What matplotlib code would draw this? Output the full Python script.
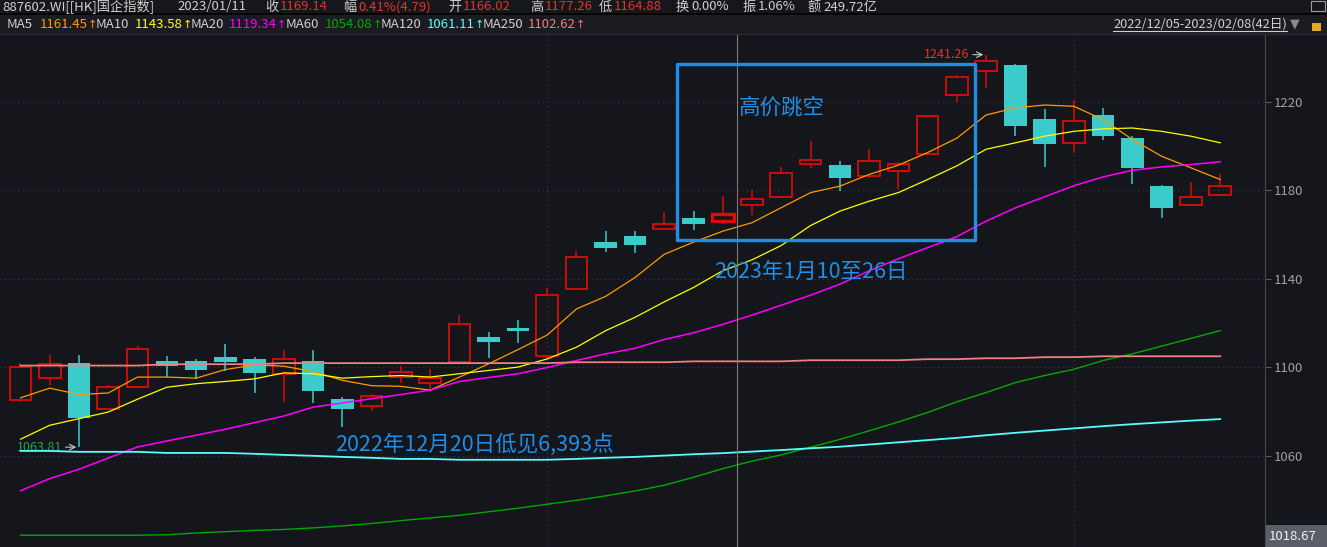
import numpy as np
import matplotlib
matplotlib.use('Agg')
import matplotlib.pyplot as plt
from matplotlib.patches import Rectangle

plt.rcParams['font.family'] = ['Noto Sans CJK SC', 'DejaVu Sans']

# 国企指数 日K 2022/12/05 - 2023/02/08 (42日)
opens = [1085.1, 1095.3, 1101.9, 1081.1, 1091.0, 1102.8, 1102.8, 1104.6, 1103.7, 1096.8,
         1102.8, 1085.7, 1082.4, 1095.5, 1092.8, 1102.2, 1113.6, 1117.7, 1104.9, 1135.4,
         1156.5, 1159.2, 1162.6, 1167.3, 1166.02, 1173.4, 1177.0, 1191.9, 1191.6, 1186.5,
         1188.8, 1196.4, 1223.0, 1233.8, 1236.7, 1212.3, 1201.2, 1214.1, 1203.8, 1182.1,
         1173.4, 1178.0]
highs = [1101.9, 1105.5, 1105.5, 1092.0, 1109.6, 1104.8, 1103.7, 1110.5, 1104.6, 1107.8,
         1107.8, 1086.6, 1087.9, 1100.4, 1099.2, 1123.6, 1115.9, 1121.3, 1135.6, 1152.4,
         1161.4, 1161.4, 1170.0, 1170.4, 1177.26, 1180.0, 1190.3, 1202.0, 1193.0, 1198.8,
         1192.8, 1214.0, 1232.2, 1241.26, 1237.1, 1216.8, 1220.6, 1217.3, 1204.4, 1182.3,
         1183.9, 1187.5]
lows = [1084.3, 1091.7, 1063.81, 1080.9, 1090.8, 1095.6, 1094.7, 1098.4, 1088.1, 1084.2,
        1083.6, 1072.8, 1080.0, 1092.6, 1089.8, 1101.8, 1104.2, 1111.1, 1103.7, 1134.8,
        1151.9, 1151.6, 1162.0, 1162.0, 1164.88, 1168.6, 1176.8, 1189.9, 1179.6, 1185.4,
        1180.3, 1196.2, 1219.9, 1226.0, 1204.4, 1190.4, 1197.0, 1202.6, 1182.7, 1167.4,
        1173.2, 1177.8]
closes = [1100.0, 1101.3, 1076.8, 1091.0, 1108.1, 1100.3, 1098.9, 1102.5, 1097.5, 1103.6,
          1089.0, 1080.9, 1086.9, 1097.7, 1095.2, 1119.4, 1111.5, 1116.3, 1132.4, 1150.0,
          1153.9, 1155.2, 1164.9, 1164.7, 1169.14, 1176.1, 1187.9, 1193.7, 1185.4, 1193.3,
          1191.9, 1213.6, 1231.1, 1238.6, 1208.9, 1200.8, 1211.4, 1204.4, 1189.9, 1171.9,
          1177.0, 1181.7]

# 均线
ma5 = [1086.1, 1090.5, 1087.6, 1088.3, 1095.5, 1095.5, 1095.0, 1098.9, 1101.0, 1100.4,
       1098.0, 1094.0, 1091.6, 1091.3, 1089.6, 1095.5, 1101.5, 1107.9, 1114.5, 1126.3,
       1132.0, 1140.5, 1151.0, 1156.5, 1161.45, 1165.3, 1172.1, 1178.9, 1181.8, 1187.1,
       1191.3, 1197.0, 1203.5, 1214.0, 1217.2, 1218.5, 1217.9, 1211.9, 1202.9, 1195.3,
       1190.1, 1184.8]
ma10 = [1067.4, 1073.7, 1076.7, 1079.7, 1085.5, 1090.9, 1092.5, 1093.5, 1094.7, 1097.4,
        1097.0, 1095.0, 1095.7, 1096.2, 1095.5, 1097.0, 1098.5, 1100.0, 1103.7, 1109.0,
        1116.5, 1122.5, 1129.5, 1136.0, 1143.58, 1148.5, 1155.0, 1164.0, 1170.5, 1175.0,
        1178.9, 1184.8, 1191.0, 1198.5, 1201.4, 1204.4, 1206.6, 1207.7, 1208.1, 1206.6,
        1204.4, 1201.4]
ma20 = [1044.1, 1049.6, 1053.8, 1058.9, 1063.9, 1066.6, 1069.2, 1071.9, 1074.9, 1077.9,
        1081.9, 1083.8, 1085.7, 1087.6, 1089.6, 1093.5, 1095.3, 1097.0, 1099.8, 1103.0,
        1106.0, 1108.5, 1112.5, 1115.5, 1119.34, 1123.5, 1128.0, 1132.5, 1137.5, 1143.5,
        1149.0, 1154.0, 1159.0, 1166.0, 1172.0, 1177.0, 1182.0, 1186.0, 1189.0, 1190.5,
        1191.6, 1192.8]
ma60 = [1024.0, 1024.0, 1024.0, 1024.0, 1024.0, 1024.2, 1025.0, 1025.6, 1026.2, 1026.6,
        1027.3, 1028.2, 1029.3, 1030.6, 1031.8, 1033.0, 1034.6, 1036.2, 1038.0, 1039.8,
        1041.8, 1044.0, 1046.6, 1050.2, 1054.08, 1057.5, 1060.3, 1063.8, 1067.3, 1071.2,
        1075.2, 1079.5, 1084.3, 1088.5, 1093.0, 1096.2, 1099.0, 1103.0, 1106.0, 1109.5,
        1113.0, 1116.5]
ma120 = [1062.1, 1062.1, 1061.7, 1061.7, 1061.7, 1061.2, 1061.2, 1061.2, 1060.8, 1060.3,
         1059.9, 1059.4, 1059.0, 1058.5, 1058.5, 1058.1, 1058.1, 1058.1, 1058.1, 1058.5,
         1059.0, 1059.4, 1060.0, 1060.6, 1061.11, 1061.8, 1062.5, 1063.3, 1064.0, 1065.0,
         1066.0, 1067.0, 1068.0, 1069.2, 1070.3, 1071.3, 1072.3, 1073.3, 1074.2, 1075.0,
         1075.8, 1076.5]
ma250 = [1100.7, 1100.7, 1100.7, 1100.7, 1100.7, 1101.3, 1101.3, 1101.3, 1101.3, 1101.8,
         1101.8, 1101.8, 1101.8, 1101.8, 1101.8, 1101.8, 1101.8, 1101.8, 1101.8, 1102.2,
         1102.2, 1102.2, 1102.2, 1102.6, 1102.62, 1102.6, 1102.6, 1103.1, 1103.1, 1103.1,
         1103.1, 1103.6, 1103.6, 1104.0, 1104.0, 1104.5, 1104.5, 1104.9, 1104.9, 1104.9,
         1104.9, 1104.9]

ma_names = ['MA5', 'MA10', 'MA20', 'MA60', 'MA120', 'MA250']
ma_colors = ['#ff9a00', '#ffff00', '#ff00ff', '#00aa00', '#55ffff', '#f08080']
ma_lw = [0.9, 0.9, 1.1, 1.0, 1.3, 1.3]

month_starts = [18, 36]      # 2023/01/03, 2023/02/01
cursor_idx = 24              # 2023/01/11
yticks = [1060, 1100, 1140, 1180, 1220]
axis_low = 1018.67

BG = '#14161b'
RED = '#dc0a0a'
CYAN = '#3ccbcb'
BLUE = '#1e8fe8'

W, H = 1327, 547
fig = plt.figure(figsize=(W / 100, H / 100), dpi=100, facecolor=BG)
ax = fig.add_axes([0, 0, 1265 / W, (H - 34) / H])
ax.set_facecolor(BG)

n = len(closes)
x = np.arange(n)
o = np.array(opens); c = np.array(closes); h = np.array(highs); l = np.array(lows)
up = c >= o
top = np.maximum(o, c); bot = np.minimum(o, c)

# 影线
wick_cols = np.where(up, RED, CYAN)
ax.vlines(x, top, h, colors=wick_cols, lw=1.1, zorder=2)
ax.vlines(x, l, bot, colors=wick_cols, lw=1.1, zorder=2)
# 实体
for i in range(n):
    if up[i]:
        lw = 2.4 if i == cursor_idx else 1.3
        ax.add_patch(Rectangle((i - 0.37, bot[i]), 0.74, max(top[i] - bot[i], 0.3),
                               facecolor='none', edgecolor=RED, lw=lw, zorder=3))
    else:
        ax.add_patch(Rectangle((i - 0.385, bot[i]), 0.77, max(top[i] - bot[i], 0.3),
                               facecolor=CYAN, edgecolor='none', zorder=3))

# 均线
for vals, col, lw in zip([ma5, ma10, ma20, ma60, ma120, ma250], ma_colors, ma_lw):
    ax.plot(x, vals, color=col, lw=lw, zorder=4)

ax.set_xlim(-0.70, 42.53)
ax.set_ylim(axis_low, 1250.6)

# 网格
for v in yticks:
    ax.axhline(v, color='#3a3d45', lw=0.8, ls=(0, (1, 3)), zorder=1)
for m in month_starts:
    ax.axvline(m, color='#3a3d45', lw=0.8, ls=(0, (1, 3)), zorder=1)
ax.axvline(cursor_idx + 0.5, color='#7a7a7a', lw=0.8, zorder=5)

ax.yaxis.tick_right()
ax.set_yticks(yticks)
ax.set_xticks([])
ax.tick_params(axis='y', colors='#5a5a5a', labelcolor='#a0a0a0', labelsize=9.5,
               length=4, width=0.8, pad=2)
for s in ['top', 'left', 'bottom']:
    ax.spines[s].set_visible(False)
ax.spines['right'].set_color('#4a4a4a')

# 最高/最低标记
imax = int(np.argmax(h)); imin = int(np.argmin(l))
ax.annotate('', xy=(imax, h[imax]), xytext=(imax - 0.55, h[imax]),
            arrowprops=dict(arrowstyle='->', color='#c8c8c8', lw=0.8), zorder=6)
ax.text(imax - 0.56, h[imax], f'{h[imax]:.2f}', ha='right', va='center',
        color='#e83030', fontsize=9)
ax.annotate('', xy=(imin, l[imin]), xytext=(imin - 0.55, l[imin]),
            arrowprops=dict(arrowstyle='->', color='#c8c8c8', lw=0.8), zorder=6)
ax.text(imin - 0.56, l[imin], f'{l[imin]:.2f}', ha='right', va='center',
        color='#22a844', fontsize=9)

# 标注
ax.add_patch(Rectangle((22.44, 1157.4), 10.18, 79.7, facecolor='none',
                       edgecolor=BLUE, lw=2.4, joinstyle='round', zorder=6))
ax.text(26.0, 1217.2, '高价跳空', ha='center', va='center', color=BLUE, fontsize=15.5, zorder=7)
ax.text(27.0, 1143.0, '2023年1月10至26日', ha='center', va='center', color=BLUE,
        fontsize=15.5, zorder=7)
ax.text(15.5, 1064.8, '2022年12月20日低见6,393点', ha='center', va='center', color=BLUE,
        fontsize=15.5, zorder=7)


def fx(px):
    return px / W


def fy(py):
    return 1 - py / H


renderer = fig.canvas.get_renderer()


def put(s, px, py, col, size=9.5, **kw):
    t = fig.text(fx(px), fy(py), s, color=col, fontsize=size, ha='left', va='center', **kw)
    bb = t.get_window_extent(renderer=renderer)
    return bb.x1  # 右端像素


# 顶部信息栏
fig.patches.append(Rectangle((0, fy(13)), 1, 13 / H, transform=fig.transFigure,
                             facecolor='#16171b', edgecolor='none', zorder=0))
fig.patches.append(Rectangle((0, fy(34)), 1, 21 / H, transform=fig.transFigure,
                             facecolor='#1a1c21', edgecolor='none', zorder=0))
fig.add_artist(plt.Line2D([0, 1], [fy(13.5), fy(13.5)], transform=fig.transFigure,
                          color='#000000', lw=1.2))
fig.add_artist(plt.Line2D([0, 1], [fy(34), fy(34)], transform=fig.transFigure,
                          color='#2c2f36', lw=0.8))

WHITE = '#d0d0d0'
HRED = '#e83030'
put('887602.WI[[HK]国企指数]', 2, 7, WHITE)
put('2023/01/11', 177, 7, WHITE)
row1 = [('收', '1169.14', HRED, 265), ('幅', '0.41%(4.79)', HRED, 343),
        ('开', '1166.02', HRED, 448), ('高', '1177.26', HRED, 530),
        ('低', '1164.88', HRED, 599), ('换', '0.00%', WHITE, 676),
        ('振', '1.06%', WHITE, 743), ('额', '249.72亿', WHITE, 808)]
for lab, val, col, px in row1:
    end = put(lab, px, 7, WHITE)
    put(val, end + 2, 7, col)

ma_now = [ma5[cursor_idx], ma10[cursor_idx], ma20[cursor_idx],
          ma60[cursor_idx], ma120[cursor_idx], ma250[cursor_idx]]
label_px = [7, 96, 191, 286, 381, 483]
value_px = [40, 135, 229, 325, 427, 528]
for name, val, col, lp, vp in zip(ma_names, ma_now, ma_colors, label_px, value_px):
    put(name, lp, 25, WHITE)
    end = put(f'{val:.2f}', vp, 25, col)
    put('↑', end, 24.5, col, size=8, family=['DejaVu Sans'])

date_txt = fig.text(fx(1287), fy(24), '2022/12/05-2023/02/08(42日)', color=WHITE,
                    fontsize=9.2, ha='right', va='center')
bb = date_txt.get_window_extent(renderer=renderer)
fig.add_artist(plt.Line2D([bb.x0 / W, bb.x1 / W], [fy(31), fy(31)],
                          transform=fig.transFigure, color=WHITE, lw=0.8))
fig.text(fx(1290), fy(24), '▼', color='#8a8a8a', fontsize=9, ha='left', va='center',
         family=['DejaVu Sans'])
fig.patches.append(Rectangle((fx(1312), fy(31)), 9 / W, 8 / H, transform=fig.transFigure,
                             facecolor='#e8a820', edgecolor='none'))
fig.patches.append(Rectangle((fx(1311), fy(11)), 14 / W, 10 / H, transform=fig.transFigure,
                             facecolor='none', edgecolor='#9a9a9a', lw=0.8))

# 右下最低刻度
fig.patches.append(Rectangle((fx(1266), 0), (W - 1266) / W, 22 / H,
                             transform=fig.transFigure, facecolor='#5b5d69',
                             edgecolor='none'))
fig.text(fx(1269), fy(536), f'{axis_low:.2f}', color='#f0f0f0', fontsize=9.5,
         ha='left', va='center')

fig.savefig('out.png', dpi=100, facecolor=BG)
